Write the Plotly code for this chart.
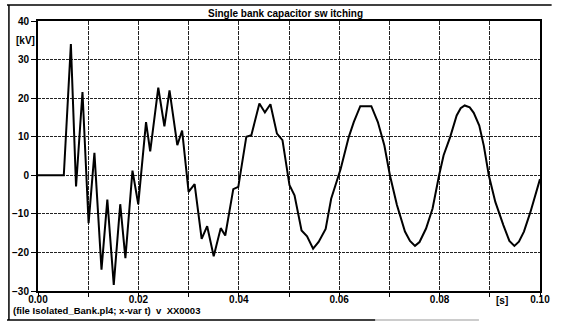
import plotly.graph_objects as go

# ---- data ----
time_s = [0.0, 0.00514, 0.00655, 0.00758, 0.00886, 0.01008, 0.01124, 0.01265, 0.01381,
          0.01509, 0.01638, 0.01741, 0.01882, 0.01997, 0.02152, 0.02235, 0.02396, 0.02518,
          0.0262, 0.02775, 0.02871, 0.0300, 0.0312, 0.0326, 0.0337, 0.0350, 0.0364, 0.0373,
          0.0389, 0.0399, 0.0415, 0.0425, 0.0441, 0.0452, 0.0463, 0.0476, 0.0487, 0.0501,
          0.0511, 0.0525, 0.0536, 0.0548, 0.0559, 0.0573, 0.0584, 0.0597, 0.0603, 0.0619,
          0.0629, 0.0642, 0.0664, 0.0677, 0.0690, 0.0701, 0.0715, 0.0731, 0.0741, 0.0751,
          0.0760, 0.0773, 0.0786, 0.0799, 0.0808, 0.0821, 0.0834, 0.0842, 0.0850, 0.0860,
          0.0868, 0.0879, 0.0888, 0.0898, 0.0911, 0.0927, 0.0939, 0.0949, 0.0958, 0.0968,
          0.0981, 0.1000]
voltage_kv = [0.0, 0.0, 34.0, -2.9, 21.6, -12.4, 5.8, -24.5, -6.3,
              -28.4, -7.5, -21.5, 1.2, -7.5, 13.8, 6.2, 22.7, 12.7,
              22.0, 7.8, 11.6, -4.3, -2.3, -16.5, -13.2, -21.0, -13.7, -15.6,
              -3.6, -3.0, 10.0, 10.4, 18.6, 16.3, 18.4, 10.8, 9.1, -2.6,
              -5.2, -14.3, -15.8, -19.0, -17.3, -13.9, -6.1, -0.9, 1.7, 9.9,
              13.8, 17.9, 17.9, 13.8, 7.7, 0.0, -7.7, -14.6, -17.0, -18.3,
              -17.3, -13.8, -8.6, 0.0, 5.2, 9.9, 15.5, 17.4, 18.1, 17.6,
              16.2, 12.9, 7.7, 0.0, -6.9, -12.9, -17.0, -18.3, -17.2, -14.6,
              -9.5, -1.0]

y_ticks = [-30, -20, -10, 0, 10, 20, 30, 40]
x_ticks = [0.00, 0.01, 0.02, 0.03, 0.04, 0.05, 0.06, 0.07, 0.08, 0.09, 0.10]
x_tick_text = ["0.00", "", "0.02", "", "0.04", "", "0.06", "", "0.08", "", "0.10"]

title_text = "Single bank capacitor sw itching"
footer_text = "(file Isolated_Bank.pl4; x-var t)  v  XX0003"

FONT = "Liberation Sans, Arial, sans-serif"

# geometry (px)
W, H = 562, 326
L, R, T, B = 32, 12, 21, 35
PW, PH = W - L - R, H - T - B

def px_x(px):
    return (px - L) / PW

def px_y(py):
    return (H - B - py) / PH

fig = go.Figure()
fig.add_trace(go.Scatter(x=time_s, y=voltage_kv, mode="lines",
                         line=dict(color="black", width=2), showlegend=False,
                         hoverinfo="skip"))

fig.update_layout(
    width=W, height=H,
    margin=dict(l=L, r=R, t=T, b=B, pad=0),
    paper_bgcolor="white", plot_bgcolor="white",
    font=dict(family=FONT, size=10, color="black", weight="bold"),
    showlegend=False,
)

fig.update_xaxes(range=[0, 0.1], tickvals=x_ticks, ticktext=x_tick_text,
                 showgrid=True, gridcolor="#222", gridwidth=1, griddash="4px,1px",
                 showline=True, linecolor="black", linewidth=2, mirror=True,
                 ticks="outside", ticklen=4, tickcolor="black", tickwidth=1,
                 ticklabelstandoff=-6,
                 zeroline=False,
                 tickfont=dict(family=FONT, size=10, color="black", weight="bold"))
fig.update_yaxes(range=[-30, 40], tickvals=y_ticks,
                 showgrid=True, gridcolor="#222", gridwidth=1, griddash="3px,1px",
                 showline=True, linecolor="black", linewidth=2, mirror=True,
                 ticks="outside", ticklen=5, tickcolor="black", tickwidth=1,
                 zeroline=False,
                 tickfont=dict(family=FONT, size=10, color="black", weight="bold"))

# title
fig.add_annotation(text=title_text, xref="paper", yref="paper",
                   x=px_x(205), y=px_y(13.5), xanchor="left", yanchor="middle",
                   showarrow=False,
                   font=dict(family=FONT, size=10, color="black", weight="bold"))
# unit labels
fig.add_annotation(text="[kV]", xref="paper", yref="paper",
                   x=px_x(31), y=px_y(40.5), xanchor="right", yanchor="middle",
                   showarrow=False,
                   font=dict(family=FONT, size=10, color="black", weight="bold"))
fig.add_annotation(text="[s]", xref="x", yref="paper",
                   x=0.0925, y=px_y(300), xanchor="center", yanchor="middle",
                   showarrow=False,
                   font=dict(family=FONT, size=10, color="black", weight="bold"))
# footer
fig.add_annotation(text=footer_text, xref="paper", yref="paper",
                   x=px_x(4), y=px_y(311), xanchor="left", yanchor="middle",
                   showarrow=False,
                   font=dict(family=FONT, size=9.5, color="black", weight="bold"))

# outer frame lines
fig.add_shape(type="line", xref="paper", yref="paper",
              x0=px_x(0), x1=px_x(W), y0=px_y(5), y1=px_y(5),
              line=dict(color="black", width=1.5))
fig.add_shape(type="line", xref="paper", yref="paper",
              x0=px_x(2), x1=px_x(2), y0=px_y(5), y1=px_y(320),
              line=dict(color="black", width=1.5))
fig.add_shape(type="line", xref="paper", yref="paper",
              x0=px_x(0), x1=px_x(380), y0=px_y(320), y1=px_y(320),
              line=dict(color="black", width=1.5))
fig.add_shape(type="line", xref="paper", yref="paper",
              x0=px_x(380), x1=px_x(487), y0=px_y(320), y1=px_y(320),
              line=dict(color="#999", width=1))

fig.write_html("out.html")
